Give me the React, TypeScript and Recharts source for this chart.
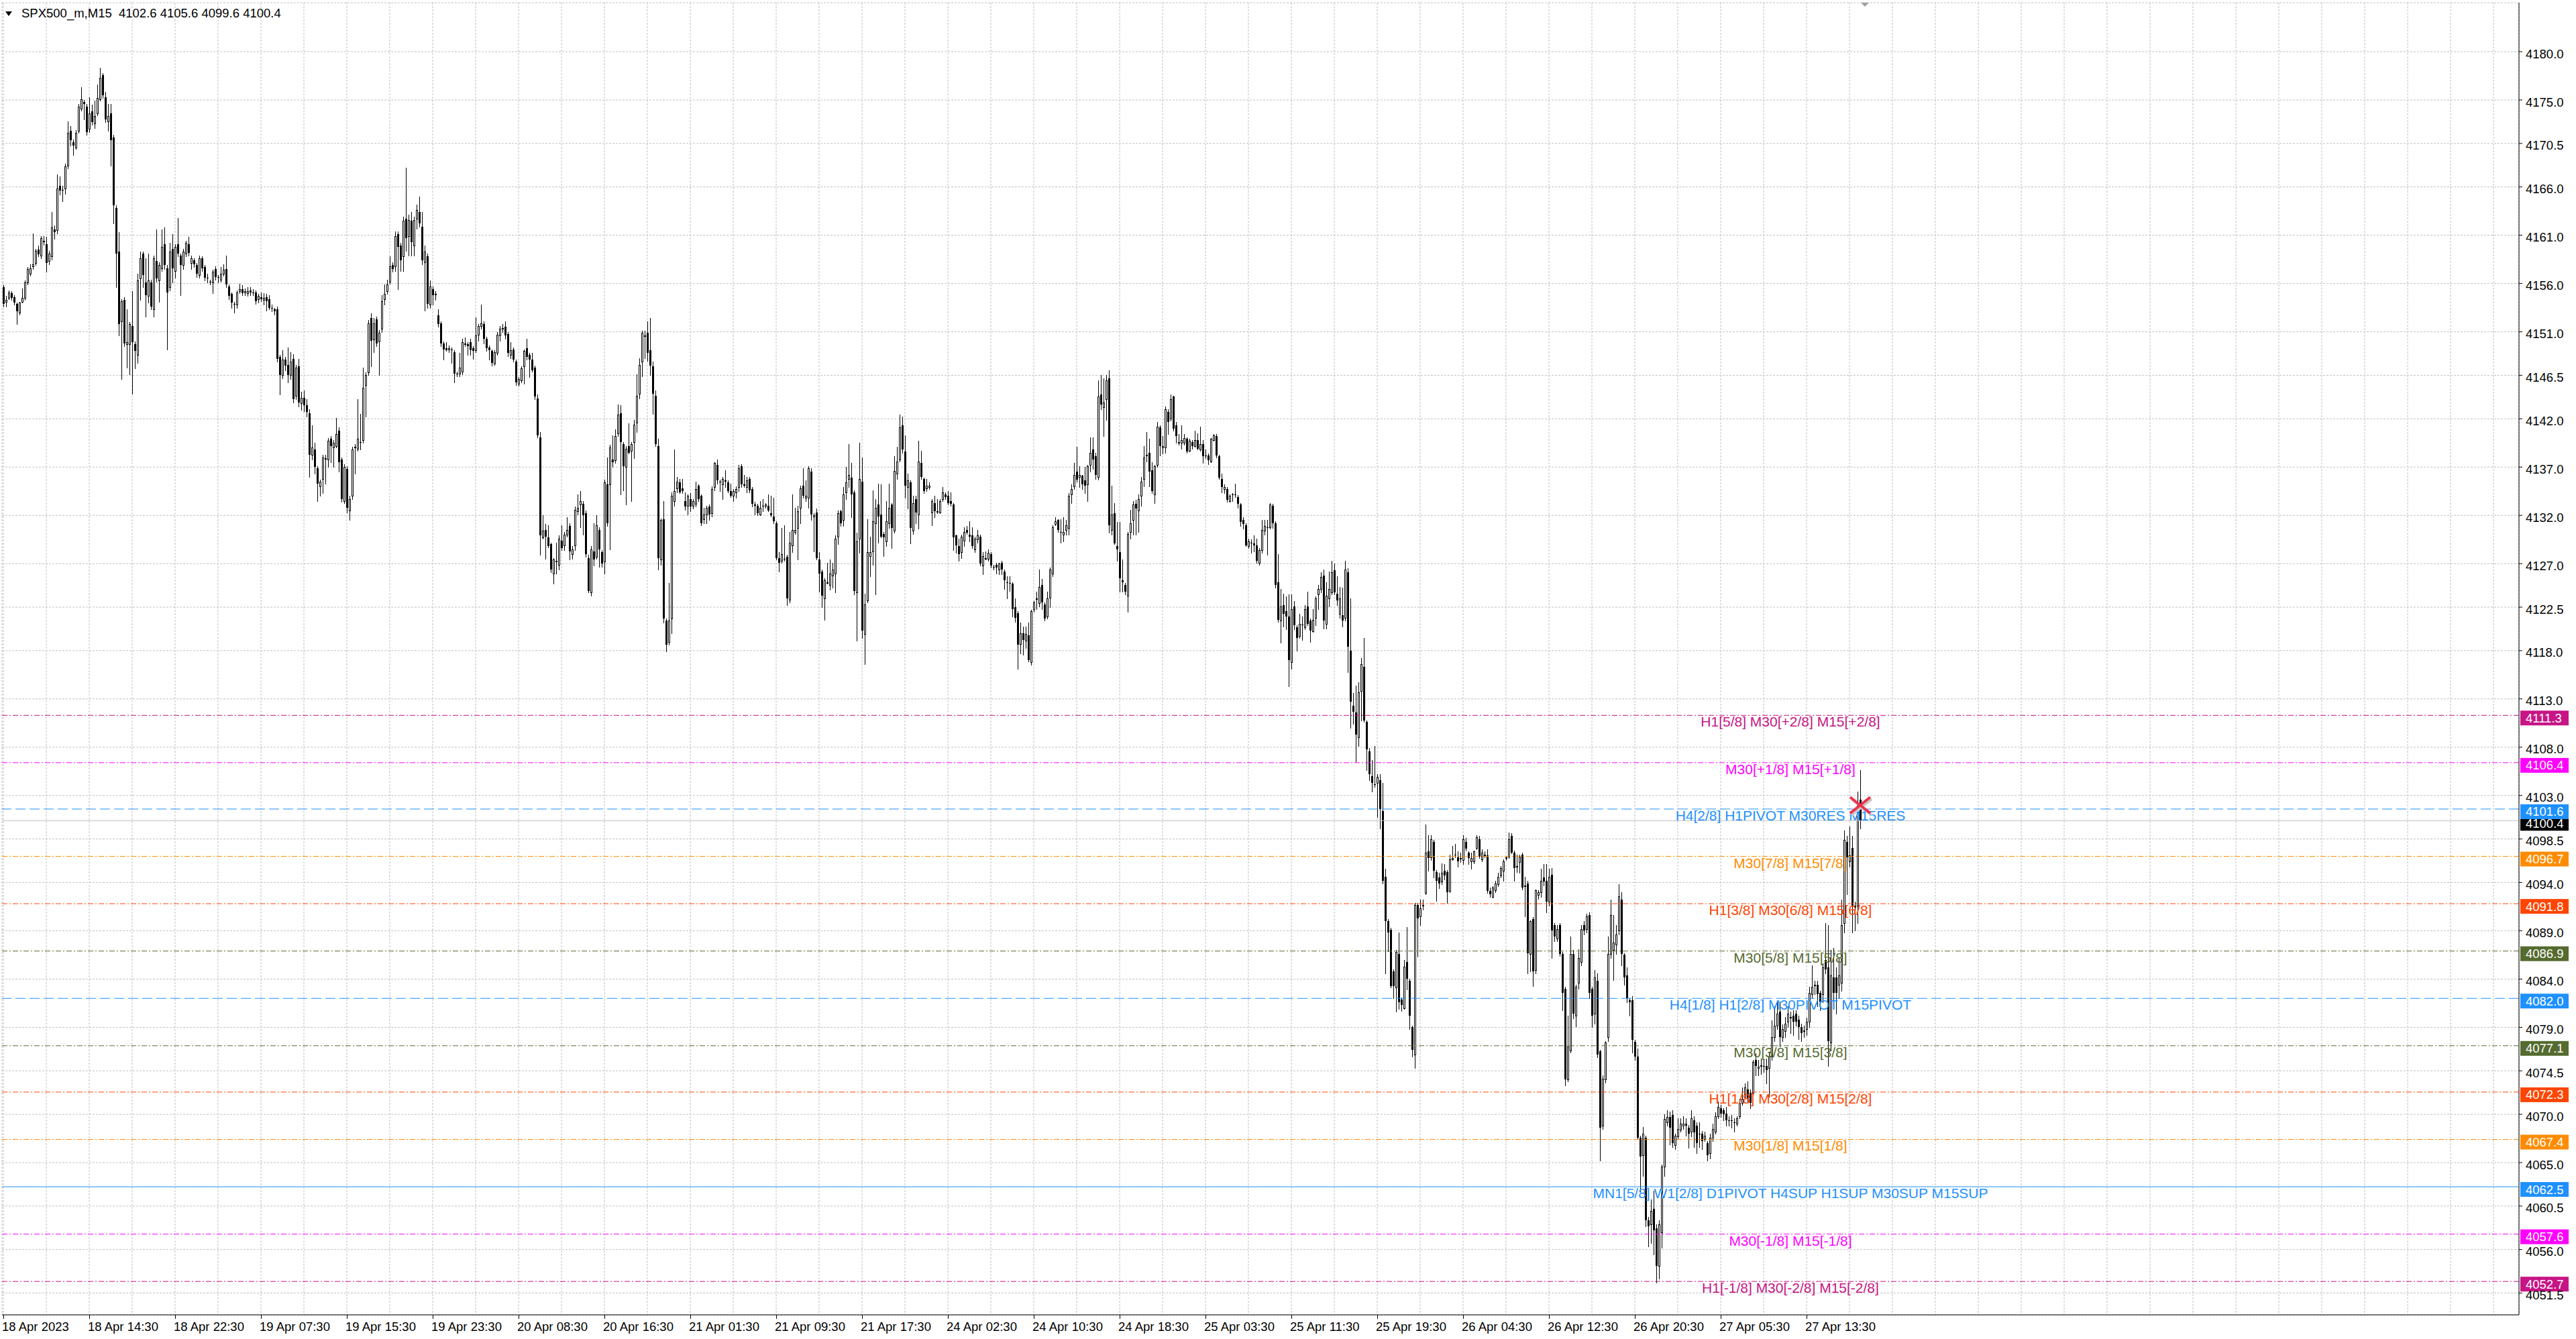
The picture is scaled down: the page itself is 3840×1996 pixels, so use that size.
import React from 'react';
import { ComposedChart, Bar, XAxis, YAxis, CartesianGrid, ReferenceLine, ReferenceDot } from 'recharts';

// ---------------- data ----------------
const symbolTitle = 'SPX500_m,M15';
const lastQuote = [4102.6, 4105.6, 4099.6, 4100.4];

// M15 candles [open, high, low, close], 18 Apr 06:30 -> 27 Apr
const candles: number[][] = [
// 0-9
[4155.6,4155.8,4153.6,4153.9],[4154.1,4154.7,4153.6,4154.3],[4154.5,4155.3,4154.4,4155.1],[4155.0,4155.2,4154.3,4154.5],[4154.6,4154.8,4153.8,4154.0],[4153.9,4154.0,4151.8,4153.1],[4153.0,4154.1,4152.8,4154.0],[4154.1,4155.5,4154.0,4154.5],[4154.5,4156.3,4154.3,4156.1],[4156.1,4157.7,4155.9,4157.5],
// 10-19
[4157.0,4158.0,4156.8,4157.6],[4157.8,4161.2,4157.5,4158.0],[4158.1,4159.6,4157.9,4159.4],[4159.5,4159.9,4158.8,4159.0],[4158.9,4160.9,4158.6,4160.7],[4160.4,4160.9,4160.0,4160.3],[4160.1,4160.8,4157.2,4158.1],[4158.3,4159.4,4158.0,4159.1],[4158.8,4163.4,4158.5,4161.8],[4161.6,4162.0,4160.6,4161.3],
// 20-29
[4161.5,4167.3,4161.2,4165.8],[4166.1,4167.1,4165.2,4165.6],[4165.7,4166.1,4164.5,4165.6],[4165.8,4168.4,4165.3,4168.1],[4168.2,4172.8,4167.9,4171.6],[4171.8,4172.3,4170.3,4170.8],[4170.6,4170.9,4169.3,4170.3],[4170.1,4171.9,4169.9,4171.6],[4171.8,4174.6,4171.6,4174.3],[4174.1,4176.3,4173.9,4175.1],
// 30-39
[4174.8,4175.0,4173.0,4174.6],[4174.3,4174.6,4171.4,4171.7],[4172.0,4175.3,4171.7,4173.6],[4173.8,4174.5,4172.4,4172.7],[4172.6,4174.9,4172.1,4173.3],[4173.6,4176.6,4173.4,4175.2],[4175.1,4178.3,4174.9,4177.3],[4177.6,4177.8,4175.2,4175.5],[4175.3,4175.8,4172.7,4173.0],[4172.8,4174.6,4171.8,4173.3],
// 40-49
[4173.6,4174.6,4168.2,4170.8],[4171.1,4171.4,4162.2,4164.1],[4163.8,4164.1,4155.6,4159.1],[4159.3,4161.3,4150.6,4151.8],[4152.1,4154.4,4146.1,4154.2],[4154.3,4154.6,4149.5,4149.8],[4149.7,4153.3,4147.3,4149.9],[4149.7,4152.0,4146.6,4151.8],[4151.6,4155.2,4144.6,4149.9],[4149.7,4150.0,4147.2,4149.0],
// 50-59
[4148.6,4157.0,4147.8,4156.3],[4156.5,4159.3,4154.3,4158.6],[4159.1,4159.3,4155.6,4156.9],[4156.1,4158.6,4152.6,4154.8],[4154.7,4159.1,4154.0,4156.3],[4156.1,4156.4,4153.3,4153.6],[4153.3,4158.9,4152.6,4158.6],[4158.3,4161.6,4156.2,4156.5],[4156.3,4158.2,4154.1,4157.9],[4157.6,4161.6,4157.3,4159.8],
// 60-69
[4160.1,4161.8,4157.5,4157.9],[4157.6,4157.9,4149.2,4155.1],[4155.6,4160.2,4155.3,4159.3],[4159.6,4161.1,4156.1,4157.6],[4157.3,4160.1,4156.6,4159.8],[4160.1,4162.8,4158.8,4159.1],[4158.9,4159.1,4154.8,4157.9],[4157.9,4159.6,4157.5,4159.3],[4159.1,4160.4,4158.8,4160.2],[4160.1,4160.8,4158.9,4159.2],
// 70-79
[4158.1,4158.9,4157.5,4158.6],[4158.4,4158.6,4157.7,4158.0],[4157.9,4158.1,4156.7,4157.0],[4156.9,4158.9,4156.6,4158.6],[4158.6,4158.8,4157.3,4157.6],[4157.7,4157.9,4156.3,4156.6],[4156.6,4157.0,4156.1,4156.5],[4156.2,4156.4,4155.9,4156.1],[4156.1,4157.4,4155.0,4157.2],[4157.5,4157.8,4156.4,4156.7],
// 80-89
[4156.7,4156.9,4156.1,4156.6],[4156.4,4157.7,4156.2,4157.0],[4157.0,4158.0,4156.8,4157.4],[4157.5,4158.9,4155.6,4155.9],[4155.7,4155.9,4154.4,4154.7],[4154.9,4155.1,4153.5,4154.0],[4153.9,4154.1,4153.0,4153.8],[4153.8,4155.3,4153.5,4155.1],[4155.2,4156.0,4155.0,4155.4],[4155.4,4155.8,4154.8,4155.0],
// 90-99
[4155.1,4155.5,4154.8,4155.2],[4155.0,4155.6,4154.7,4155.2],[4155.3,4155.6,4154.8,4155.1],[4155.1,4155.4,4154.8,4155.0],[4155.1,4155.3,4153.9,4154.2],[4154.4,4154.9,4154.0,4154.7],[4154.6,4155.1,4154.2,4154.4],[4154.3,4155.0,4153.8,4154.5],[4154.6,4154.9,4153.2,4154.2],[4154.4,4154.8,4153.3,4153.5],
// 100-109
[4153.5,4153.8,4153.1,4153.4],[4153.3,4153.5,4152.8,4153.1],[4153.3,4153.6,4147.9,4148.2],[4148.4,4148.6,4144.5,4146.5],[4146.5,4149.1,4146.2,4148.1],[4148.1,4148.4,4147.0,4147.5],[4147.6,4149.4,4145.8,4146.5],[4146.5,4148.9,4146.1,4147.9],[4148.2,4148.7,4143.7,4144.0],[4144.4,4147.6,4144.0,4147.3],
// 110-119
[4147.4,4148.2,4143.3,4143.7],[4143.6,4144.8,4142.9,4144.2],[4144.2,4144.9,4142.8,4143.4],[4143.4,4144.0,4142.2,4142.7],[4142.6,4143.0,4136.0,4138.3],[4138.3,4141.3,4137.8,4139.0],[4138.8,4139.5,4136.3,4137.0],[4136.9,4137.1,4133.5,4135.3],[4135.0,4135.7,4134.0,4135.5],[4135.8,4138.3,4134.3,4138.0],
// 120-129
[4137.9,4138.3,4135.3,4137.8],[4137.8,4140.0,4137.0,4139.7],[4139.9,4140.2,4137.5,4139.2],[4139.0,4139.8,4137.0,4139.5],[4139.2,4142.1,4139.0,4140.4],[4140.8,4141.1,4136.5,4137.5],[4137.8,4138.0,4133.4,4133.7],[4133.5,4137.3,4133.3,4137.0],[4136.8,4137.1,4132.3,4132.8],[4132.5,4134.0,4131.5,4133.7],
// 130-139
[4134.0,4139.1,4133.7,4138.8],[4139.0,4139.4,4136.3,4139.1],[4138.9,4144.0,4138.7,4139.9],[4139.6,4142.5,4138.8,4139.5],[4139.8,4147.3,4139.5,4145.2],[4145.5,4146.8,4142.2,4146.5],[4146.8,4152.2,4146.5,4151.9],[4152.4,4152.9,4147.4,4150.1],[4150.2,4152.4,4148.9,4151.9],[4152.3,4152.6,4149.5,4149.8],
// 140-149
[4150.0,4151.2,4146.5,4150.9],[4151.3,4154.8,4151.0,4154.2],[4154.4,4155.9,4153.8,4154.9],[4155.2,4156.4,4154.9,4155.9],[4156.2,4158.8,4156.0,4157.8],[4157.9,4158.2,4157.2,4157.5],[4157.8,4161.4,4157.3,4160.9],[4161.1,4161.4,4155.4,4159.8],[4159.9,4160.2,4157.3,4158.4],[4158.8,4162.9,4157.3,4162.5],
// 150-159
[4162.7,4168.0,4159.4,4160.7],[4160.9,4163.1,4158.9,4162.6],[4162.5,4163.4,4158.9,4160.3],[4159.9,4162.9,4158.9,4162.6],[4162.7,4164.2,4161.7,4163.6],[4163.4,4165.0,4161.9,4162.2],[4161.9,4163.4,4158.0,4158.4],[4158.2,4159.9,4153.2,4159.3],[4158.8,4159.1,4153.5,4153.9],[4153.8,4156.3,4153.5,4155.7],
// 160-169
[4155.4,4155.7,4153.8,4154.8],[4154.9,4155.2,4154.3,4154.8],[4152.7,4153.3,4151.5,4151.8],[4151.9,4152.1,4149.5,4149.8],[4149.8,4150.0,4148.1,4149.2],[4149.3,4149.9,4149.0,4149.1],[4149.2,4149.6,4148.9,4149.3],[4149.2,4149.4,4147.8,4149.1],[4148.9,4149.1,4145.8,4146.7],[4146.7,4146.9,4146.4,4146.6],
// 170-179
[4146.7,4148.8,4146.4,4147.3],[4146.9,4150.3,4146.6,4149.9],[4149.7,4150.4,4149.5,4149.8],[4149.7,4149.9,4148.6,4149.5],[4149.9,4150.3,4148.6,4149.1],[4149.3,4149.5,4148.2,4149.0],[4149.1,4152.5,4148.9,4150.6],[4150.7,4151.8,4150.1,4151.6],[4151.6,4153.8,4151.3,4151.9],[4151.8,4152.1,4149.8,4150.3],
// 180-189
[4150.3,4150.5,4149.0,4149.3],[4149.4,4149.6,4148.1,4149.1],[4149.0,4149.2,4147.5,4147.8],[4147.7,4149.1,4147.6,4148.9],[4148.8,4151.0,4148.6,4150.7],[4150.6,4151.6,4150.1,4151.3],[4151.3,4151.8,4151.0,4151.4],[4151.5,4152.1,4150.3,4150.6],[4150.8,4151.0,4148.5,4148.8],[4148.6,4149.9,4148.3,4149.1],
// 190-199
[4149.2,4149.4,4147.9,4148.1],[4147.9,4148.1,4145.5,4145.8],[4145.6,4146.3,4145.4,4146.1],[4146.0,4147.4,4145.8,4147.2],[4147.4,4149.2,4145.6,4149.0],[4149.3,4150.3,4148.1,4148.4],[4148.6,4148.8,4146.3,4148.1],[4148.1,4148.8,4146.9,4147.0],[4147.3,4147.5,4144.0,4144.3],[4144.1,4144.5,4140.1,4140.3],
// 200-209
[4140.1,4140.6,4127.9,4129.9],[4129.7,4132.0,4129.6,4130.4],[4130.5,4131.1,4127.5,4129.8],[4129.7,4131.0,4128.7,4128.8],[4129.0,4129.2,4126.1,4126.4],[4126.0,4127.6,4124.9,4127.4],[4127.2,4129.2,4126.0,4127.3],[4126.9,4129.9,4126.4,4129.6],[4129.4,4131.0,4128.4,4128.6],[4128.9,4130.3,4128.4,4130.0],
// 210-219
[4130.0,4131.8,4129.8,4130.5],[4130.9,4131.2,4127.4,4128.3],[4128.0,4128.8,4127.5,4128.5],[4128.9,4132.9,4128.4,4132.6],[4132.4,4134.2,4132.1,4132.8],[4133.1,4134.5,4130.8,4133.5],[4133.2,4133.5,4130.0,4132.0],[4132.2,4132.5,4127.7,4128.0],[4127.6,4127.9,4124.0,4124.2],[4124.0,4128.8,4123.7,4128.5],
// 220-229
[4128.3,4131.2,4126.8,4127.4],[4127.7,4132.0,4127.5,4131.0],[4130.5,4130.8,4126.7,4128.5],[4128.2,4128.4,4126.7,4127.0],[4127.2,4135.7,4126.0,4135.4],[4135.2,4138.0,4130.9,4131.2],[4135.2,4139.3,4128.5,4139.0],[4137.8,4140.3,4137.0,4137.5],[4137.7,4140.9,4137.4,4140.2],[4140.5,4143.5,4140.2,4142.4],
// 230-239
[4142.6,4143.4,4134.2,4139.6],[4139.4,4139.6,4134.6,4137.1],[4137.0,4139.2,4133.1,4138.9],[4139.2,4141.5,4138.4,4138.5],[4138.7,4139.6,4133.5,4139.4],[4139.6,4141.9,4137.9,4141.4],[4141.6,4146.6,4140.6,4144.4],[4144.6,4148.3,4144.1,4147.6],[4147.9,4151.1,4146.4,4150.9],[4150.6,4151.1,4148.3,4150.5],
// 240-249
[4150.9,4152.1,4148.0,4148.8],[4149.1,4152.4,4146.5,4147.5],[4147.4,4147.9,4142.5,4144.6],[4144.4,4144.9,4139.2,4139.4],[4139.2,4139.9,4126.4,4127.6],[4127.4,4131.7,4126.9,4131.5],[4131.6,4133.5,4120.9,4121.3],[4121.1,4121.3,4117.9,4118.6],[4118.9,4125.0,4118.6,4121.1],[4121.3,4134.4,4119.8,4134.0],
// 250-259
[4133.5,4138.8,4133.0,4134.5],[4134.8,4136.0,4134.4,4135.5],[4135.4,4135.8,4134.3,4134.4],[4134.8,4135.8,4134.3,4134.5],[4133.5,4134.4,4132.6,4132.9],[4133.0,4134.2,4132.1,4134.0],[4133.7,4134.3,4132.4,4132.9],[4133.0,4133.7,4132.7,4133.5],[4133.2,4135.5,4132.9,4134.7],[4135.1,4135.2,4133.5,4133.7],
// 260-269
[4134.0,4134.2,4131.0,4131.2],[4131.6,4132.8,4131.2,4132.1],[4132.1,4133.0,4131.2,4132.8],[4132.9,4133.1,4131.5,4132.1],[4132.2,4135.0,4131.9,4134.7],[4134.9,4137.5,4134.6,4137.4],[4137.2,4137.8,4135.3,4135.6],[4135.5,4135.7,4134.5,4135.4],[4135.2,4136.0,4133.7,4135.8],[4135.6,4136.7,4134.9,4135.5],
// 270-279
[4135.4,4135.6,4134.4,4134.5],[4134.5,4135.3,4133.9,4134.0],[4134.0,4134.7,4133.5,4134.5],[4134.4,4135.0,4133.8,4134.7],[4134.9,4137.2,4134.5,4136.9],[4137.1,4137.3,4134.9,4135.2],[4135.2,4136.2,4134.9,4135.1],[4134.9,4136.0,4134.4,4135.6],[4135.8,4136.0,4134.4,4134.6],[4134.7,4134.9,4132.9,4133.2],
// 280-289
[4133.1,4133.4,4132.1,4133.0],[4133.0,4133.2,4132.0,4132.2],[4132.1,4133.5,4132.0,4132.8],[4133.0,4133.7,4132.4,4132.9],[4133.0,4133.3,4132.8,4133.1],[4133.0,4134.2,4132.4,4132.5],[4132.2,4134.0,4131.9,4132.0],[4131.9,4133.8,4131.2,4131.4],[4131.2,4131.4,4127.4,4127.6],[4127.6,4128.2,4126.2,4127.1],
// 290-299
[4127.3,4130.7,4127.1,4128.0],[4127.5,4131.0,4127.3,4127.4],[4127.7,4127.9,4122.7,4123.4],[4123.3,4130.3,4123.0,4129.2],[4128.9,4134.2,4128.2,4130.5],[4130.3,4132.8,4130.1,4130.5],[4130.7,4133.0,4127.4,4132.4],[4132.8,4135.1,4131.2,4134.8],[4135.1,4136.9,4133.8,4134.0],[4133.8,4135.6,4133.5,4134.0],
// 300-309
[4133.8,4137.1,4132.8,4136.9],[4136.5,4136.9,4131.5,4132.1],[4131.9,4132.2,4128.3,4132.0],[4132.3,4132.7,4127.4,4127.6],[4127.4,4128.2,4124.1,4126.0],[4126.2,4126.4,4122.5,4123.7],[4123.4,4125.5,4121.2,4125.3],[4125.0,4127.1,4124.9,4125.1],[4124.8,4127.4,4124.3,4126.0],[4125.8,4127.1,4124.5,4126.4],
// 310-319
[4126.0,4129.9,4124.0,4129.6],[4129.8,4132.5,4129.0,4132.2],[4132.4,4132.6,4130.9,4131.2],[4131.5,4134.9,4130.9,4134.2],[4134.4,4137.0,4133.7,4135.4],[4135.8,4139.4,4134.9,4136.2],[4135.9,4137.4,4131.8,4134.2],[4134.4,4134.6,4123.8,4124.2],[4124.0,4130.2,4119.0,4129.3],[4129.6,4139.5,4128.1,4135.8],
// 320-329
[4135.5,4138.0,4119.3,4120.1],[4119.7,4123.9,4116.6,4122.8],[4123.2,4131.6,4123.0,4128.2],[4127.8,4129.8,4125.7,4128.2],[4128.3,4134.6,4126.9,4131.4],[4131.2,4133.7,4123.8,4132.8],[4133.1,4135.3,4129.2,4131.9],[4132.1,4135.2,4129.7,4129.8],[4130.1,4130.3,4127.8,4129.7],[4129.3,4133.5,4128.8,4131.4],
// 330-339
[4131.2,4135.3,4130.7,4132.8],[4133.1,4133.3,4128.6,4130.7],[4130.4,4138.1,4130.2,4136.6],[4136.3,4139.1,4135.8,4137.6],[4137.8,4142.4,4137.6,4141.1],[4141.3,4142.2,4138.5,4138.8],[4138.6,4140.3,4133.8,4135.1],[4134.9,4136.3,4132.7,4135.6],[4135.4,4135.6,4129.1,4130.7],[4130.4,4134.0,4130.1,4133.3],
// 340-349
[4133.7,4134.0,4131.2,4132.3],[4132.1,4139.7,4130.6,4137.6],[4137.4,4138.7,4135.8,4136.0],[4135.8,4135.9,4134.3,4134.5],[4134.8,4135.8,4134.5,4135.1],[4134.9,4135.4,4134.7,4135.1],[4132.3,4133.7,4131.0,4133.5],[4133.3,4134.0,4131.8,4132.4],[4132.4,4133.7,4132.2,4132.3],[4132.3,4133.7,4132.2,4133.5],
// 350-359
[4133.7,4134.9,4133.5,4134.4],[4134.2,4134.4,4133.7,4133.9],[4134.0,4134.5,4133.1,4133.3],[4133.5,4134.4,4133.0,4133.2],[4133.1,4133.3,4128.4,4129.7],[4129.9,4130.0,4128.1,4128.9],[4128.8,4129.6,4127.3,4128.0],[4128.2,4130.0,4127.6,4129.8],[4129.4,4130.8,4128.8,4130.3],[4130.5,4130.9,4130.1,4130.2],
// 360-369
[4130.0,4131.4,4129.3,4129.8],[4129.9,4130.8,4128.6,4128.8],[4128.5,4129.8,4128.2,4129.6],[4129.5,4130.5,4129.2,4129.9],[4129.8,4130.0,4126.8,4127.0],[4126.8,4128.2,4125.9,4127.8],[4127.5,4128.3,4127.4,4127.6],[4127.5,4128.5,4127.3,4128.1],[4128.0,4128.2,4126.6,4126.8],[4126.7,4126.9,4126.4,4126.6],
// 370-379
[4126.9,4127.1,4126.0,4126.6],[4126.4,4127.1,4125.9,4127.0],[4127.1,4127.3,4125.9,4126.4],[4126.2,4126.4,4124.4,4125.3],[4125.1,4125.7,4123.4,4125.0],[4125.0,4125.7,4124.2,4124.9],[4124.9,4125.1,4121.5,4122.3],[4122.5,4123.4,4121.0,4121.4],[4121.9,4122.1,4116.1,4118.6],[4118.7,4120.9,4117.7,4119.8],
// 380-389
[4119.8,4120.5,4117.6,4119.1],[4119.0,4120.5,4118.3,4119.7],[4119.6,4120.9,4116.9,4117.0],[4116.8,4122.2,4116.5,4122.1],[4122.3,4123.1,4122.0,4123.0],[4123.4,4124.1,4122.3,4123.3],[4122.9,4126.4,4122.6,4124.6],[4124.8,4125.4,4122.3,4123.0],[4122.8,4123.0,4121.1,4121.3],[4121.5,4124.1,4121.3,4123.4],
// 390-399
[4123.5,4126.6,4122.5,4126.4],[4126.0,4131.0,4125.7,4130.8],[4131.1,4131.8,4131.0,4131.4],[4131.5,4131.6,4130.3,4130.5],[4130.3,4131.6,4129.2,4130.2],[4130.0,4131.8,4129.3,4130.3],[4130.5,4131.5,4130.0,4131.0],[4130.7,4134.3,4130.0,4134.0],[4134.2,4135.2,4133.3,4134.7],[4135.0,4137.4,4134.7,4136.2],
// 400-409
[4136.5,4139.1,4135.5,4135.7],[4136.0,4137.1,4134.9,4136.2],[4136.1,4136.2,4134.7,4135.2],[4135.6,4137.0,4134.3,4135.1],[4135.2,4137.2,4133.5,4137.1],[4137.2,4140.1,4136.5,4138.5],[4138.8,4140.1,4136.8,4137.8],[4138.1,4138.5,4135.8,4136.2],[4136.0,4146.0,4135.7,4144.3],[4144.5,4146.5,4143.0,4143.5],
// 410-419
[4143.2,4146.2,4140.2,4143.7],[4144.0,4146.5,4141.9,4146.0],[4146.2,4147.0,4130.2,4131.0],[4130.5,4135.1,4130.0,4132.1],[4132.2,4133.3,4129.0,4129.1],[4128.8,4131.3,4127.3,4128.5],[4128.2,4131.3,4124.1,4125.5],[4125.3,4127.4,4124.1,4125.1],[4124.8,4125.0,4123.8,4124.1],[4123.7,4130.3,4122.0,4130.1],
// 420-429
[4130.3,4132.6,4129.6,4131.2],[4131.5,4133.5,4130.0,4133.1],[4133.2,4133.6,4130.0,4132.7],[4132.5,4134.2,4130.3,4133.7],[4134.0,4136.0,4133.0,4135.5],[4135.8,4139.2,4135.0,4138.0],[4138.2,4140.6,4137.6,4138.3],[4138.5,4139.9,4135.0,4136.5],[4136.7,4137.5,4134.3,4134.5],[4134.2,4137.2,4133.3,4137.1],
// 430-439
[4137.2,4141.7,4137.0,4141.2],[4141.1,4141.3,4138.2,4139.2],[4139.0,4140.2,4138.4,4139.2],[4139.0,4143.3,4138.5,4143.0],[4142.7,4143.0,4140.4,4141.7],[4142.0,4144.5,4141.8,4144.0],[4144.3,4144.4,4140.8,4141.0],[4141.3,4141.7,4139.5,4140.2],[4139.5,4140.4,4139.3,4139.6],[4139.5,4141.3,4138.9,4139.8],
// 440-449
[4139.5,4140.4,4139.3,4140.0],[4139.9,4140.1,4138.5,4138.6],[4138.7,4139.9,4138.6,4139.7],[4139.6,4139.8,4138.9,4139.2],[4139.2,4140.8,4139.1,4139.8],[4139.8,4140.5,4138.8,4138.9],[4138.8,4141.2,4138.7,4139.4],[4139.4,4139.8,4137.4,4138.1],[4138.2,4138.8,4137.9,4138.1],[4138.2,4138.4,4137.3,4137.7],
// 450-459
[4137.6,4140.0,4137.5,4139.9],[4139.8,4140.4,4139.7,4140.3],[4140.2,4140.4,4138.0,4138.2],[4138.1,4138.3,4135.8,4135.9],[4135.8,4136.3,4134.4,4134.9],[4134.7,4135.2,4134.3,4134.9],[4134.7,4134.9,4133.4,4133.6],[4133.5,4134.2,4133.4,4134.0],[4134.2,4134.3,4133.5,4134.1],[4134.2,4135.3,4133.9,4134.1],
// 460-469
[4133.9,4134.1,4132.8,4133.2],[4133.1,4133.3,4130.9,4131.3],[4131.5,4131.8,4130.6,4131.1],[4131.0,4131.2,4128.8,4128.9],[4128.8,4129.6,4128.6,4129.3],[4129.2,4129.5,4128.1,4129.1],[4129.1,4129.9,4128.3,4128.9],[4128.9,4129.6,4127.1,4127.3],[4127.1,4128.6,4126.9,4128.4],[4128.4,4131.5,4128.1,4130.5],
// 470-479
[4130.4,4131.5,4130.0,4130.9],[4130.8,4131.5,4127.9,4130.7],[4130.8,4133.3,4130.6,4133.1],[4133.0,4133.2,4130.7,4131.2],[4131.2,4131.4,4124.5,4124.8],[4125.1,4128.0,4121.0,4121.2],[4121.1,4124.4,4118.8,4122.6],[4122.7,4123.9,4120.5,4121.8],[4122.1,4123.6,4120.2,4121.5],[4121.5,4123.8,4114.3,4117.0],
// 480-489
[4116.8,4123.8,4116.1,4122.3],[4122.6,4123.1,4120.2,4120.6],[4120.4,4120.6,4118.0,4119.3],[4119.5,4121.8,4119.3,4120.8],[4120.7,4121.5,4119.1,4120.6],[4120.4,4122.7,4120.2,4122.3],[4122.6,4124.1,4120.6,4120.8],[4121.1,4121.3,4118.9,4120.1],[4120.0,4122.3,4119.9,4121.2],[4121.4,4123.6,4120.6,4123.4],
// 490-499
[4123.8,4124.8,4122.3,4124.4],[4124.4,4126.1,4124.0,4125.6],[4125.8,4126.4,4120.3,4121.1],[4120.8,4125.1,4120.3,4123.7],[4123.4,4126.2,4122.6,4124.4],[4124.0,4127.3,4123.8,4126.1],[4126.3,4127.0,4123.8,4124.0],[4123.9,4125.7,4122.7,4123.2],[4121.8,4124.6,4121.4,4123.4],[4121.7,4124.5,4120.5,4121.1],
// 500-509
[4121.4,4127.3,4121.1,4126.4],[4126.1,4126.5,4115.8,4118.4],[4118.0,4123.4,4110.0,4112.7],[4112.3,4113.6,4110.4,4111.7],[4111.6,4114.4,4106.5,4109.3],[4109.0,4114.7,4108.1,4113.7],[4113.8,4117.2,4110.8,4116.6],[4116.3,4119.3,4110.6,4110.8],[4110.6,4110.8,4105.6,4107.8],[4107.6,4107.9,4104.6,4105.2],
// 510-519
[4105.0,4106.7,4103.4,4104.3],[4104.2,4108.1,4103.9,4104.1],[4104.3,4105.2,4100.8,4104.9],[4104.6,4105.2,4099.6,4101.6],[4101.4,4104.3,4093.9,4094.2],[4094.6,4095.4,4084.6,4090.0],[4090.0,4090.2,4086.9,4088.8],[4089.1,4089.3,4083.1,4083.3],[4084.8,4085.0,4082.0,4083.3],[4083.1,4087.0,4080.6,4086.8],
// 520-529
[4086.6,4088.8,4080.9,4081.6],[4081.9,4082.1,4080.7,4081.3],[4081.0,4086.0,4080.9,4085.3],[4085.8,4089.4,4082.9,4084.0],[4083.8,4084.0,4078.8,4080.2],[4079.0,4079.2,4076.0,4076.7],[4076.2,4091.9,4074.8,4091.7],[4091.7,4091.9,4086.3,4090.3],[4090.5,4092.2,4089.6,4091.3],[4091.6,4092.2,4091.2,4091.7],
// 530-539
[4092.9,4100.0,4092.8,4097.1],[4097.2,4098.9,4095.2,4096.5],[4096.6,4098.9,4096.3,4098.5],[4098.2,4098.4,4094.5,4095.2],[4095.1,4095.3,4092.1,4094.2],[4094.5,4095.0,4093.4,4093.9],[4094.1,4096.0,4093.8,4095.0],[4095.2,4095.9,4094.3,4094.7],[4095.1,4095.3,4091.9,4093.0],[4093.1,4096.9,4093.0,4096.4],
// 540-549
[4096.4,4097.8,4096.3,4096.5],[4096.9,4098.0,4096.6,4096.8],[4096.6,4097.2,4095.6,4096.2],[4096.5,4097.1,4096.1,4096.4],[4096.3,4098.9,4095.9,4098.5],[4098.2,4098.6,4097.3,4097.5],[4097.1,4097.2,4095.9,4096.5],[4096.2,4097.1,4095.4,4096.5],[4096.2,4097.3,4096.0,4097.2],[4097.6,4098.9,4097.4,4098.7],
// 550-559
[4098.5,4098.8,4096.5,4096.7],[4096.4,4097.4,4096.2,4097.1],[4096.8,4097.2,4096.6,4096.9],[4096.8,4097.4,4092.9,4093.1],[4093.1,4093.5,4092.5,4092.8],[4092.5,4093.6,4092.4,4093.5],[4093.2,4094.2,4093.0,4093.9],[4093.8,4095.0,4093.6,4094.6],[4094.7,4095.7,4094.5,4095.5],[4095.2,4096.4,4094.2,4096.2],
// 560-569
[4096.5,4096.7,4096.3,4096.6],[4096.7,4099.2,4096.5,4098.5],[4098.8,4099.1,4097.0,4097.1],[4097.1,4097.3,4094.2,4095.5],[4095.6,4096.9,4095.1,4095.7],[4096.1,4096.9,4095.0,4096.7],[4096.9,4097.1,4093.3,4093.5],[4093.6,4094.6,4090.5,4093.7],[4093.9,4094.2,4084.6,4086.7],[4086.6,4090.1,4084.8,4090.0],
// 570-579
[4090.2,4090.4,4083.3,4084.8],[4084.9,4093.3,4084.6,4093.2],[4092.7,4093.2,4092.3,4093.0],[4093.0,4095.4,4092.5,4094.2],[4094.5,4095.9,4093.7,4094.1],[4094.2,4095.9,4090.9,4092.0],[4092.0,4095.4,4091.6,4094.6],[4094.8,4095.5,4086.2,4089.0],[4089.6,4089.8,4087.9,4088.4],[4088.2,4089.6,4087.9,4089.2],
// 580-589
[4089.6,4089.8,4086.4,4086.6],[4086.6,4086.8,4080.8,4082.6],[4083.0,4083.2,4073.0,4073.6],[4073.6,4080.2,4073.4,4077.0],[4076.6,4088.4,4076.4,4086.6],[4086.6,4087.0,4079.9,4080.4],[4080.2,4083.4,4079.1,4083.2],[4083.6,4087.1,4083.0,4086.2],[4085.8,4089.6,4085.4,4089.2],[4089.6,4090.0,4088.6,4089.0],
// 590-599
[4089.2,4090.8,4088.8,4090.5],[4090.6,4090.9,4082.0,4082.6],[4083.0,4083.2,4079.0,4080.2],[4080.4,4084.9,4079.4,4084.2],[4083.8,4084.6,4075.9,4076.2],[4076.5,4076.7,4065.2,4068.6],[4068.8,4074.0,4068.5,4073.7],[4073.6,4077.6,4073.3,4077.4],[4078.0,4088.4,4077.6,4086.6],[4086.6,4092.2,4086.2,4090.6],
// 600-609
[4087.0,4090.6,4083.9,4087.8],[4087.6,4089.6,4086.6,4088.6],[4089.0,4093.8,4088.6,4092.6],[4092.2,4093.0,4085.4,4086.6],[4086.5,4086.7,4083.4,4084.2],[4084.4,4085.2,4081.6,4082.0],[4081.8,4082.0,4080.2,4081.6],[4081.8,4082.2,4076.4,4077.7],[4077.5,4077.7,4075.6,4076.0],[4076.0,4076.8,4067.4,4067.6],
// 610-619
[4067.6,4067.8,4062.0,4065.6],[4065.8,4068.7,4063.6,4068.0],[4067.6,4067.8,4058.4,4059.0],[4059.0,4059.4,4056.3,4058.4],[4058.6,4061.2,4056.7,4060.0],[4060.2,4062.1,4055.5,4058.0],[4058.2,4058.6,4052.6,4054.3],[4054.3,4059.0,4053.0,4058.6],[4057.8,4064.8,4056.2,4064.6],[4064.6,4070.0,4063.6,4069.5],
// 620-629
[4069.2,4070.4,4068.8,4069.7],[4069.7,4070.3,4066.9,4068.6],[4069.9,4070.4,4066.6,4067.0],[4066.8,4068.0,4066.4,4067.8],[4067.7,4069.6,4067.4,4068.5],[4068.4,4069.6,4068.2,4069.0],[4068.8,4069.8,4068.5,4069.0],[4069.0,4069.6,4067.8,4068.8],[4068.6,4068.9,4066.5,4068.0],[4068.2,4070.4,4067.7,4069.6],
// 630-639
[4069.4,4069.8,4066.6,4068.1],[4068.8,4069.2,4066.0,4067.0],[4068.0,4069.2,4066.6,4067.9],[4068.0,4068.3,4066.4,4067.2],[4067.4,4068.2,4067.2,4067.8],[4067.0,4067.2,4065.2,4065.8],[4066.0,4068.0,4065.4,4067.6],[4067.4,4069.0,4067.2,4068.5],[4068.2,4070.2,4068.0,4069.8],[4069.8,4071.3,4069.6,4070.8],
// 640-649
[4070.6,4071.0,4069.7,4070.1],[4070.4,4070.6,4069.4,4070.0],[4070.1,4070.8,4068.8,4069.4],[4069.4,4069.8,4068.8,4069.3],[4069.4,4069.9,4068.6,4069.3],[4069.2,4069.6,4068.2,4069.1],[4069.0,4069.8,4068.8,4069.6],[4069.8,4071.6,4069.6,4071.2],[4071.2,4072.8,4071.0,4071.6],[4071.8,4073.2,4071.6,4072.8],
// 650-659
[4072.6,4073.4,4071.3,4071.6],[4072.2,4072.6,4070.6,4071.2],[4072.2,4075.6,4072.0,4075.4],[4075.6,4076.3,4074.0,4075.0],[4074.8,4075.6,4074.0,4074.9],[4075.0,4075.8,4074.2,4075.1],[4075.0,4075.6,4074.4,4074.9],[4075.0,4075.8,4073.2,4074.6],[4074.8,4076.4,4071.8,4076.0],[4076.0,4079.7,4075.6,4078.0],
// 660-669
[4078.0,4081.2,4077.6,4079.2],[4079.2,4081.6,4078.8,4080.4],[4080.6,4081.7,4077.0,4078.0],[4078.0,4079.3,4077.6,4078.8],[4078.6,4080.1,4078.0,4079.4],[4079.6,4081.2,4079.0,4080.4],[4080.0,4080.6,4078.4,4080.1],[4080.2,4080.8,4078.2,4079.6],[4080.4,4080.8,4079.2,4079.6],[4079.8,4080.2,4077.8,4079.0],
// 670-679
[4079.0,4079.4,4077.6,4078.4],[4078.6,4079.2,4078.0,4078.7],[4078.8,4080.0,4078.2,4079.6],[4079.6,4083.2,4079.0,4082.6],[4082.4,4085.4,4082.0,4083.2],[4083.4,4083.8,4082.4,4083.3],[4083.4,4083.8,4081.2,4082.4],[4082.6,4082.8,4080.8,4081.6],[4082.4,4085.6,4081.6,4085.2],[4086.0,4089.8,4084.6,4085.0],
// 680-689
[4085.2,4089.6,4075.0,4077.6],[4077.4,4087.0,4076.6,4084.4],[4084.2,4087.2,4081.4,4082.6],[4084.2,4085.2,4080.4,4082.6],[4083.4,4086.2,4082.0,4084.4],[4083.6,4092.2,4082.8,4089.6],[4089.8,4099.4,4088.8,4098.4],[4098.2,4098.8,4092.8,4096.6],[4096.2,4099.8,4095.6,4096.8],[4097.6,4098.8,4088.8,4091.6],
// 690-692
[4091.6,4092.0,4089.0,4091.4],[4091.6,4103.4,4089.8,4102.0],[4102.6,4105.6,4099.6,4100.4],
];

const timeLabels = [
  '18 Apr 2023', '18 Apr 14:30', '18 Apr 22:30', '19 Apr 07:30', '19 Apr 15:30', '19 Apr 23:30',
  '20 Apr 08:30', '20 Apr 16:30', '21 Apr 01:30', '21 Apr 09:30', '21 Apr 17:30', '24 Apr 02:30',
  '24 Apr 10:30', '24 Apr 18:30', '25 Apr 03:30', '25 Apr 11:30', '25 Apr 19:30', '26 Apr 04:30',
  '26 Apr 12:30', '26 Apr 20:30', '27 Apr 05:30', '27 Apr 13:30',
];

const priceTicks = [
  4180.0, 4175.0, 4170.5, 4166.0, 4161.0, 4156.0, 4151.0, 4146.5, 4142.0, 4137.0, 4132.0, 4127.0,
  4122.5, 4118.0, 4113.0, 4108.0, 4103.0, 4098.5, 4094.0, 4089.0, 4084.0, 4079.0, 4074.5, 4070.0,
  4065.0, 4060.5, 4056.0, 4051.5,
];

const levelPrices = [4111.3, 4106.4, 4101.6, 4096.7, 4091.8, 4086.9, 4082.0, 4077.1, 4072.3, 4067.4, 4062.5, 4057.6, 4052.7];
const levelLabels = [
  'H1[5/8] M30[+2/8] M15[+2/8]',
  'M30[+1/8] M15[+1/8]',
  'H4[2/8] H1PIVOT M30RES M15RES',
  'M30[7/8] M15[7/8]',
  'H1[3/8] M30[6/8] M15[6/8]',
  'M30[5/8] M15[5/8]',
  'H4[1/8] H1[2/8] M30PIVOT M15PIVOT',
  'M30[3/8] M15[3/8]',
  'H1[1/8] M30[2/8] M15[2/8]',
  'M30[1/8] M15[1/8]',
  'MN1[5/8] W1[2/8] D1PIVOT H4SUP H1SUP M30SUP M15SUP',
  'M30[-1/8] M15[-1/8]',
  'H1[-1/8] M30[-2/8] M15[-2/8]',
];
const bidPrice = 4100.4;
const signalPoint = { bar: 692, price: 4102.0 };
const labelBar = 666;

// ---------------- layout & styles ----------------
const W = 3840;
const H = 1996;
const SLOTS = 938; // bars + empty chart-shift area
const BARS_PER_LABEL = 32;
const BARS_PER_GRID = 16;
const Y_DOMAIN: [number, number] = [4049.24, 4185.07];
const FONT = '"Liberation Sans", Arial, sans-serif';
const AXIS_FONT = 18.5;

const C_VIOLET = '#C71585';
const C_MAGENTA = '#FF00FF';
const C_BLUE = '#1E90FF';
const C_ORANGE = '#FF8C00';
const C_ORANGERED = '#FF4500';
const C_OLIVE = '#556B2F';
const levelColors = [C_VIOLET, C_MAGENTA, C_BLUE, C_ORANGE, C_ORANGERED, C_OLIVE, C_BLUE, C_OLIVE, C_ORANGERED, C_ORANGE, C_BLUE, C_MAGENTA, C_VIOLET];
const DASHDOT = '8 3 2 3';
const DASH = '15 6';
const levelDashes = [DASHDOT, DASHDOT, DASH, DASHDOT, DASHDOT, DASHDOT, DASH, DASHDOT, DASHDOT, DASHDOT, undefined, DASHDOT, DASHDOT];

const chartData = Array.from({ length: SLOTS }, (_, i) => {
  const k = candles[i];
  if (!k) return { i };
  return { i, o: k[0], h: k[1], l: k[2], c: k[3], range: [k[2], k[1]] };
});

const gridTicks = Array.from({ length: Math.floor(SLOTS / BARS_PER_GRID) + 1 }, (_, k) => k * BARS_PER_GRID).filter((v) => v < SLOTS);

// ---------------- renderers ----------------
function CandleShape(props: any) {
  const { x, y, width, height, payload } = props;
  if (!payload || payload.o == null || !isFinite(y) || !isFinite(height)) return null;
  const { o, h, l, c } = payload;
  const top = Math.min(y, y + height);
  const hgt = Math.abs(height);
  const cx = Math.floor(x + width / 2);
  const ppu = hgt / (h - l);
  const yTop = Math.round(top + (h - Math.max(o, c)) * ppu);
  const yBot = Math.round(top + (h - Math.min(o, c)) * ppu);
  const wick = (
    <line x1={cx + 0.5} x2={cx + 0.5} y1={Math.round(top)} y2={Math.round(top + hgt) + 1} stroke="#000" strokeWidth={1} />
  );
  if (c >= o) {
    return (
      <g>
        {wick}
        <rect x={cx - 0.5} y={yTop + 0.5} width={2} height={Math.max(yBot - yTop, 1)} fill="#fff" stroke="#000" strokeWidth={1} />
      </g>
    );
  }
  return (
    <g>
      {wick}
      <rect x={cx - 1} y={yTop} width={3} height={Math.max(yBot - yTop, 1)} fill="#000" />
    </g>
  );
}

function PriceTick(props: any) {
  const { x, y, payload } = props;
  return (
    <text x={x} y={y + 9.5} fontSize={AXIS_FONT} fontFamily={FONT} fill="#000" textAnchor="start">
      {Number(payload.value).toFixed(1)}
    </text>
  );
}

function TimeTick(props: any) {
  const { x, y, payload } = props;
  const idx = Number(payload.value);
  if (idx % BARS_PER_LABEL !== 0) return null;
  const label = timeLabels[idx / BARS_PER_LABEL];
  if (!label) return null;
  return (
    <g>
      <line x1={x + 0.5} x2={x + 0.5} y1={y} y2={y + 6} stroke="#000" strokeWidth={1} />
      <text x={x - 2} y={y + 24} fontSize={AXIS_FONT} fontFamily={FONT} fill="#000" textAnchor="start">
        {label}
      </text>
    </g>
  );
}

function makeTag(color: string, text: string) {
  return (p: any) => {
    const vb = p && p.viewBox ? p.viewBox : p;
    if (!vb) return null;
    const x0 = vb.x + vb.width + 2;
    const yc = vb.y + 4;
    return (
      <g>
        <rect x={x0} y={yc - 11} width={72} height={22} fill={color} />
        <text x={x0 + 8} y={yc + 6.5} fill="#fff" fontSize={AXIS_FONT} fontFamily={FONT}>
          {text}
        </text>
      </g>
    );
  };
}

function makeLevelText(color: string, text: string) {
  return (p: any) => {
    const vb = p && p.viewBox ? p.viewBox : p;
    if (!vb) return null;
    const cx = vb.x + (vb.width || 0) / 2;
    const cy = vb.y + (vb.height || 0) / 2;
    return (
      <text x={cx} y={cy + 17} textAnchor="middle" fill={color} fontSize={21} fontFamily={FONT}>
        {text}
      </text>
    );
  };
}

function XMark(p: any) {
  const { cx, cy } = p;
  if (!isFinite(cx) || !isFinite(cy)) return null;
  return (
    <g>
      <line x1={cx - 13} y1={cy - 9} x2={cx + 17} y2={cy + 15} stroke="#C8C8C8" strokeWidth={4} />
      <line x1={cx - 13} y1={cy + 15} x2={cx + 17} y2={cy - 9} stroke="#C8C8C8" strokeWidth={4} />
      <line x1={cx - 15} y1={cy - 12} x2={cx + 15} y2={cy + 12} stroke="#F0304A" strokeWidth={4} />
      <line x1={cx - 15} y1={cy + 12} x2={cx + 15} y2={cy - 12} stroke="#F0304A" strokeWidth={4} />
    </g>
  );
}

export default function App() {
  return (
    <div style={{ position: 'absolute', left: 0, top: 0, width: W, height: H, background: '#fff', overflow: 'hidden' }}>
      <ComposedChart
        width={W}
        height={H}
        data={chartData}
        margin={{ top: 4, right: 0, bottom: 0, left: 3 }}
        barCategoryGap={0}
        barGap={0}
      >
        <CartesianGrid stroke="#C0C0C0" strokeDasharray="3 2" strokeWidth={1} />
        <XAxis
          dataKey="i"
          type="category"
          height={36}
          ticks={gridTicks}
          interval={0}
          tick={<TimeTick />}
          tickLine={false}
          tickSize={0}
          tickMargin={0}
          axisLine={{ stroke: '#000', strokeWidth: 1 }}
        />
        <XAxis
          xAxisId="top"
          dataKey="i"
          type="category"
          orientation="top"
          height={0}
          tick={false}
          tickLine={false}
          axisLine={{ stroke: '#000', strokeWidth: 1 }}
        />
        <YAxis
          orientation="right"
          width={85}
          domain={Y_DOMAIN}
          allowDataOverflow
          ticks={priceTicks}
          interval={0}
          tick={<PriceTick />}
          tickSize={5}
          tickMargin={5}
          tickLine={{ stroke: '#000' }}
          axisLine={{ stroke: '#000', strokeWidth: 1 }}
          type="number"
        />
        <YAxis
          yAxisId="left"
          orientation="left"
          width={0}
          domain={Y_DOMAIN}
          allowDataOverflow
          tick={false}
          tickLine={false}
          axisLine={{ stroke: '#000', strokeWidth: 1 }}
          type="number"
        />

        <ReferenceLine y={bidPrice} stroke="#C0C0C0" strokeWidth={1} label={makeTag('#000', bidPrice.toFixed(1))} />
        {levelPrices.map((p, k) => (
          <ReferenceLine
            key={'lv' + k}
            y={p}
            stroke={levelColors[k]}
            strokeWidth={1}
            strokeDasharray={levelDashes[k]}
            label={makeTag(levelColors[k], p.toFixed(1))}
          />
        ))}
        {levelPrices.map((p, k) => (
          <ReferenceDot
            key={'lt' + k}
            x={labelBar}
            y={p}
            r={1}
            fill="none"
            stroke="none"
            label={makeLevelText(levelColors[k], levelLabels[k])}
          />
        ))}

        <Bar dataKey="range" shape={(p: any) => <CandleShape {...p} />} isAnimationActive={false} />

        <ReferenceDot x={signalPoint.bar} y={signalPoint.price} r={14} shape={(p: any) => <XMark {...p} />} />
      </ComposedChart>

      {/* header */}
      <div
        style={{
          position: 'absolute', left: 8, top: 17, width: 0, height: 0,
          borderLeft: '5px solid transparent', borderRight: '5px solid transparent', borderTop: '7px solid #000',
        }}
      />
      <div
        style={{
          position: 'absolute', left: 32, top: 10, fontFamily: FONT, fontSize: 18.5, lineHeight: '20px',
          whiteSpace: 'pre', color: '#000',
        }}
      >
        {`${symbolTitle}  ${lastQuote.map((v) => v.toFixed(1)).join(' ')}`}
      </div>
      {/* chart shift marker */}
      <div
        style={{
          position: 'absolute', left: 2774, top: 4, width: 0, height: 0,
          borderLeft: '6px solid transparent', borderRight: '6px solid transparent', borderTop: '6px solid #A0A0A0',
        }}
      />
    </div>
  );
}
